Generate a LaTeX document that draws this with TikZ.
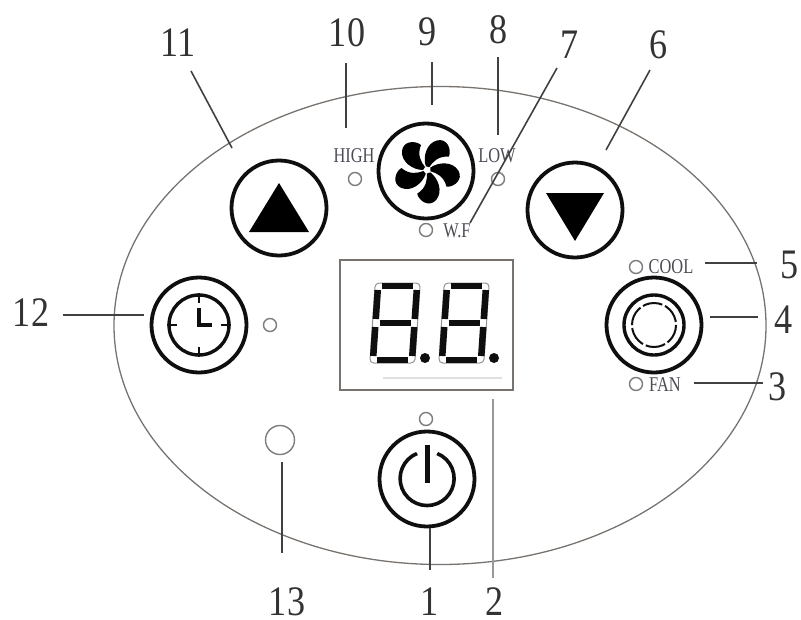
\documentclass[tikz,border=0pt]{standalone}
\usepackage{xcolor}
\usepackage{fontspec}
\setmainfont{Liberation Serif}
\definecolor{inkline}{RGB}{15,15,15}
\definecolor{leadline}{RGB}{65,65,65}
\definecolor{shellline}{RGB}{120,115,110}
\definecolor{lampline}{RGB}{125,125,125}
\definecolor{tagtext}{RGB}{75,75,85}
\newcommand{\narrowtag}[1]{\scalebox{.78}[1]{#1}}
\newcommand{\narrownum}[1]{\scalebox{.86}[1]{#1}}
\tikzset{
  button/.style={circle, draw=inkline, line width=3.8pt, minimum size=95pt, inner sep=0pt},
  lamp/.style={circle, draw=lampline, line width=1.4pt, minimum size=13pt, inner sep=0pt},
  tag/.style={font=\fontsize{21}{21}\selectfont, text=tagtext, inner sep=0pt},
  num/.style={font=\fontsize{42}{42}\selectfont, text=black!80, inner sep=0pt},
  leader/.style={draw=leadline, line width=1.6pt},
  seg/.style={line width=6.5pt, inkline}
}
\begin{document}
\begin{tikzpicture}[x=1pt, y=-1pt]
  \useasboundingbox (0,0) rectangle (801,619);

  % Panel outline
  \draw[shellline, line width=1.3pt] (440,325.5) ellipse (326 and 239);

  % Display
  \node[draw=shellline, line width=1.6pt, minimum width=173pt, minimum height=130pt, inner sep=0pt] (display) at (426.5,325) {};
  \draw[black!12, line width=1.2pt] (383,378) -- (502,378);
  \foreach \dx in {373,442} {
    \begin{scope}[shift={(\dx,360)}, xslant=0.068]
      \draw[inkline!45, line width=1pt, rounded corners=4pt] (-3,-77) rectangle (42,3);
      \draw[seg] (4,-74) -- (35,-74);
      \draw[seg] (4,-37) -- (35,-37);
      \draw[seg] (4,0) -- (35,0);
      \draw[seg] (0,-70) -- (0,-41);
      \draw[seg] (39,-70) -- (39,-41);
      \draw[seg] (0,-33) -- (0,-4);
      \draw[seg] (39,-33) -- (39,-4);
    \end{scope}
    \fill[inkline] (\dx+52,358) circle (5);
  }

  % Buttons
  \node[button] (upbtn) at (279,208) {};
  \node[button] (fanbtn) at (426,171) {};
  \node[button] (downbtn) at (575,210) {};
  \node[button] (clockbtn) at (199,325) {};
  \node[button] (modebtn) at (654,325) {};
  \node[button] (powerbtn) at (427,479) {};

  % Arrow symbols
  \fill[black] (279,183) -- (309,232) -- (249,232) -- cycle;
  \fill[black] (546,193) -- (604,193) -- (575,241) -- cycle;

  % Fan blades
  \foreach \a in {0,72,144,216,288} {
    \fill[black, rotate around={\a:(427,170)}, shift={(427,170)}]
      (-2,-3) .. controls (-6,-8) and (-10,-15) .. (-6,-25)
      .. controls (-12,-30) and (-24,-29) .. (-25,-19)
      .. controls (-26,-8) and (-14,0) .. (-4,0) -- cycle;
  }
  \fill[white] (427,170) circle (2.5);

  % Clock face
  \draw[inkline, line width=3.4pt] (clockbtn.center) circle (30);
  \draw[inkline, line width=3.4pt] (199,308) -- (clockbtn.center) -- (212,325);
  \draw[inkline, line width=2.6pt] (199,293) -- (199,303) (199,347) -- (199,357);
  \draw[inkline, line width=2.6pt] (167,325) -- (177,325) (221,325) -- (231,325);

  % Mode knob
  \draw[inkline, line width=3.4pt] (modebtn.center) circle (30);
  \draw[inkline, line width=2pt, dash pattern=on 20pt off 3pt] (modebtn.center) circle (22);

  % Power symbol
  \draw[inkline, line width=3.6pt] (417,453.5) arc[start angle=-112, end angle=-428, radius=27];
  \draw[inkline, line width=5pt] (427,445) -- (427,483);

  % Lamps
  \node[lamp] (lamphigh) at (355,179) {};
  \node[lamp] (lamplow) at (498,179) {};
  \node[lamp] (lampwf) at (426,230) {};
  \node[lamp] (lampcool) at (636,267) {};
  \node[lamp] (lampfan) at (636,384) {};
  \node[lamp] (lampclock) at (270,325) {};
  \node[lamp] (lamppower) at (426,419) {};
  \node[lamp, minimum size=29pt] (sensor) at (280,440) {};

  % Lamp texts
  \node[tag] (taghigh) at (354,156) {\narrowtag{HIGH}};
  \node[tag] (taglow) at (497,156) {\narrowtag{LOW}};
  \node[tag] (tagwf) at (457,231) {\narrowtag{W.F}};
  \node[tag] (tagcool) at (671,267) {\narrowtag{COOL}};
  \node[tag] (tagfan) at (665,385) {\narrowtag{FAN}};

  % Numbers
  \node[num] (n1) at (430,602) {\narrownum{1}};
  \node[num] (n2) at (495,602) {\narrownum{2}};
  \node[num] (n3) at (778,387) {\narrownum{3}};
  \node[num] (n4) at (784,320) {\narrownum{4}};
  \node[num] (n5) at (790,265) {\narrownum{5}};
  \node[num] (n6) at (659,45) {\narrownum{6}};
  \node[num] (n7) at (570,45) {\narrownum{7}};
  \node[num] (n8) at (499,30) {\narrownum{8}};
  \node[num] (n9) at (428,32) {\narrownum{9}};
  \node[num] (n10) at (347,33) {\narrownum{10}};
  \node[num] (n11) at (178,43) {\narrownum{11}};
  \node[num] (n12) at (31,313) {\narrownum{12}};
  \node[num] (n13) at (287,602) {\narrownum{13}};

  % Leader lines with free ends
  \foreach \n/\ax/\ay/\bx/\by in {3/694/383/763/383, 5/705/263/757/263, 6/650/70/606/150,
    7/557/68/470/223, 8/498/57/498/135, 9/432/62/432/105, 10/346/63/346/128, 11/191/71/232/148} {
    \coordinate (from\n) at (\ax,\ay);
    \coordinate (to\n) at (\bx,\by);
    \draw[leader] (from\n) -- (to\n);
  }

  % Leader lines to parts
  \coordinate (to1) at (430,570);
  \coordinate (to2) at (493,578);
  \coordinate (to13) at (282,553);
  \coordinate (from4) at (710,317);
  \coordinate (to4) at (758,317);
  \coordinate (from12) at (63,315);
  \draw[leader, line width=2pt] (from4) -- (to4);
  \draw[leader, line width=2pt, shorten >=6pt] (from12) -- (clockbtn.west |- from12);
  \draw[leader, shorten <=7pt] (to13 |- sensor.south) -- (to13);
  \draw[leader] (to1 |- powerbtn.south) -- (to1);
  \draw[leader, draw=black!40, line width=2pt, shorten <=8pt] (to2 |- display.south) -- (to2);
\end{tikzpicture}
\end{document}
